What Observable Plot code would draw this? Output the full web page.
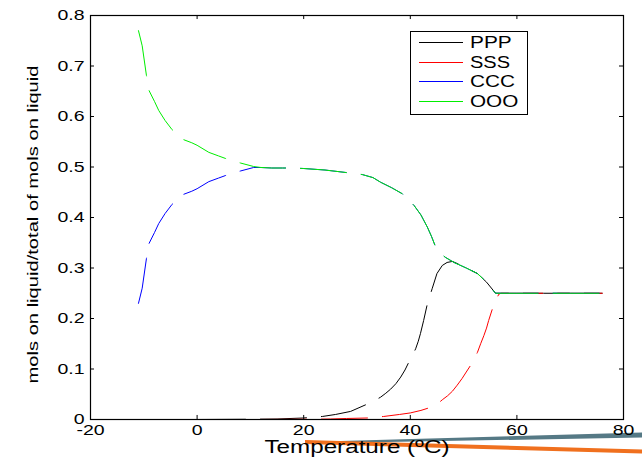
<!DOCTYPE html>
<html><head><meta charset="utf-8">
<script src="https://cdn.jsdelivr.net/npm/d3@7"></script>
<script src="https://cdn.jsdelivr.net/npm/@observablehq/plot@0.6"></script>
<style>
html,body{margin:0;padding:0;background:#fff;}
#wrap{position:relative;width:642px;height:462px;overflow:hidden;font-family:"Liberation Sans",Arial,sans-serif;}
#wrap svg{position:absolute;left:0;top:0;}
</style></head><body><div id="wrap"></div>
<script>
// ---- data ----
const xTicks = [-20, 0, 20, 40, 60, 80];
const yTicks = [0, 0.1, 0.2, 0.3, 0.4, 0.5, 0.6, 0.7, 0.8];
const seriesNames = ["PPP", "SSS", "CCC", "OOO"];
const seriesColors = ["#000000", "#ff0000", "#0000ff", "#00ee00"];
const xLabel = "Temperature (ºC)";
const yLabel = "mols on liquid/total of mols on liquid";

const pppT = [-11, 0, 10, 15, 20, 23.5, 26, 28.8, 31.6, 33, 34.4, 35.4, 36.3, 37.3, 38.2, 39, 39.7, 40.4, 41, 41.5, 41.9, 42.5, 43.2, 44.1, 45, 46, 46.9, 47.9, 49, 50.5, 52.6, 54.3, 56, 57, 60, 65, 70, 76];
const pppV = [0, 0, 0.0005, 0.001, 0.003, 0.006, 0.010, 0.016, 0.029, 0.036, 0.044, 0.052, 0.060, 0.071, 0.084, 0.098, 0.113, 0.127, 0.140, 0.155, 0.170, 0.196, 0.229, 0.259, 0.289, 0.305, 0.311, 0.313, 0.308, 0.300, 0.289, 0.272, 0.25, 0.25, 0.25, 0.25, 0.25, 0.25];

const sssT = [-11, 0, 10, 20, 25, 28, 32, 35, 38, 40, 42, 43.5, 45, 46, 47, 47.9, 48.8, 49.7, 50.5, 51.3, 52, 52.6, 53.2, 53.8, 54.3, 54.7, 55.4, 56, 56.6, 57, 60, 65, 70, 76];
const sssV = [0, 0, 0, 0.0005, 0.001, 0.002, 0.003, 0.006, 0.010, 0.013, 0.018, 0.023, 0.030, 0.039, 0.047, 0.056, 0.068, 0.081, 0.094, 0.107, 0.120, 0.133, 0.150, 0.166, 0.181, 0.196, 0.219, 0.235, 0.248, 0.25, 0.25, 0.25, 0.25, 0.25];

const cccT = [-11, -10.3, -9.5, -9, -8, -7.2, -6, -4.7, -3.5, -2.5, -1, 0, 2.2, 4, 5.3, 8.1, 10.6, 12, 14, 16, 18, 20, 24, 28, 31, 33, 34.4, 36.5, 38.5, 40.7, 42, 43.2, 44, 44.7, 45.5, 46.6, 48.2, 50.5, 52.6, 54.3, 56, 57, 60, 65, 70, 76];
const cccV = [0.230, 0.260, 0.319, 0.349, 0.370, 0.388, 0.408, 0.426, 0.438, 0.446, 0.452, 0.457, 0.471, 0.478, 0.483, 0.492, 0.499, 0.499, 0.498, 0.498, 0.498, 0.497, 0.494, 0.489, 0.485, 0.479, 0.470, 0.459, 0.447, 0.424, 0.405, 0.381, 0.362, 0.343, 0.330, 0.321, 0.311, 0.300, 0.289, 0.272, 0.25, 0.25, 0.25, 0.25, 0.25, 0.25];

const oooT = [-11, -10.3, -9.5, -9, -8, -7.2, -6, -4.7, -3.5, -2.5, -1, 0, 2.2, 4, 5.3, 8.1, 10.6, 12, 14, 16, 18, 20, 24, 28, 31, 33, 34.4, 36.5, 38.5, 40.7, 42, 43.2, 44, 44.7, 45.5, 46.6, 48.2, 50.5, 52.6, 54.3, 56, 57, 60, 65, 70, 76];
const oooV = [0.770, 0.740, 0.681, 0.651, 0.630, 0.612, 0.592, 0.574, 0.562, 0.554, 0.548, 0.543, 0.529, 0.522, 0.517, 0.508, 0.501, 0.499, 0.498, 0.498, 0.498, 0.497, 0.494, 0.489, 0.485, 0.479, 0.470, 0.459, 0.447, 0.424, 0.405, 0.381, 0.362, 0.343, 0.330, 0.321, 0.311, 0.300, 0.289, 0.272, 0.25, 0.25, 0.25, 0.25, 0.25, 0.25];

// ---- table ----
const seriesT = [pppT, sssT, cccT, oooT];
const seriesV = [pppV, sssV, cccV, oooV];
const rows = [];
seriesNames.forEach((name, i) => {
  seriesT[i].forEach((t, j) => rows.push({series: name, t, v: seriesV[i][j]}));
});

const chart = Plot.plot({
  width: 642,
  height: 462,
  marginLeft: 90,
  marginTop: 15,
  marginRight: 19,
  marginBottom: 43,
  style: {background: "transparent", fontFamily: "'Liberation Sans', Arial, sans-serif", color: "#000"},
  x: {domain: [-20, 80], axis: null},
  y: {domain: [0, 0.8], axis: null},
  color: {domain: seriesNames, range: seriesColors},
  marks: [
    Plot.line(rows, {x: "t", y: "v", z: "series", stroke: "series", strokeWidth: 1, strokeDasharray: "46,15"}),
    Plot.ruleX(xTicks, {x: d => d, y1: 0, y2: 0.008, stroke: "#000"}),
    Plot.ruleX(xTicks, {x: d => d, y1: 0.8, y2: 0.792, stroke: "#000"}),
    Plot.ruleY(yTicks, {y: d => d, x1: -20, x2: -19.25, stroke: "#000"}),
    Plot.ruleY(yTicks, {y: d => d, x1: 80, x2: 79.25, stroke: "#000"}),
    Plot.frame({stroke: "#000", strokeWidth: 1.2}),
    Plot.axisX(xTicks, {anchor: "bottom", tickSize: 0, tickPadding: 5, fontSize: 15, tickFormat: d => String(d), label: null}),
    Plot.axisY(yTicks, {anchor: "left", tickSize: 0, tickPadding: 6, fontSize: 15, tickFormat: d => String(d), label: null}),
    Plot.text([xLabel], {frameAnchor: "bottom", dy: 33, fontSize: 18, textAnchor: "middle", text: d => d}),
    Plot.text([yLabel], {frameAnchor: "left", dx: -57, dy: 7, rotate: -90, fontSize: 15, textAnchor: "middle", text: d => d})
  ]
});

const wrap = document.getElementById("wrap");

// decorative strokes present at the bottom-right of the reference picture
const deco = d3.create("svg").attr("width", 642).attr("height", 462);
deco.append("polygon").attr("points", "305,442 642,432.5 642,437.5 305,443.5").attr("fill", "#557985");
deco.append("polygon").attr("points", "305,440 642,449.5 642,453.5 305,444").attr("fill", "#f0701e");
wrap.appendChild(deco.node());
wrap.appendChild(chart);

// stretch text horizontally as in the reference
d3.select(chart).selectAll("text").each(function() {
  const s = this.textContent;
  let L;
  if (s === xLabel) L = 185;
  else if (s === yLabel) L = 318;
  else L = this.getComputedTextLength() * 1.3;
  this.setAttribute("textLength", L);
  this.setAttribute("lengthAdjust", "spacingAndGlyphs");
});

// legend
const lg = d3.create("svg").attr("width", 642).attr("height", 462);
lg.append("rect").attr("x", 410.5).attr("y", 31.5).attr("width", 117).attr("height", 83)
  .attr("fill", "#fff").attr("stroke", "#000").attr("stroke-width", 1);
const legW = [41.7, 40, 45, 48.3];
const legY = [42.5, 62.5, 81.5, 101.5];
seriesNames.forEach((name, i) => {
  const y = legY[i];
  lg.append("line").attr("x1", 419).attr("x2", 463).attr("y1", y).attr("y2", y)
    .attr("stroke", seriesColors[i]).attr("stroke-width", 1);
  lg.append("text").attr("x", 470).attr("y", y).attr("dy", "0.36em")
    .attr("font-family", "'Liberation Sans', Arial, sans-serif").attr("font-size", 16)
    .attr("textLength", legW[i]).attr("lengthAdjust", "spacingAndGlyphs").text(name);
});
wrap.appendChild(lg.node());
</script></body></html>
